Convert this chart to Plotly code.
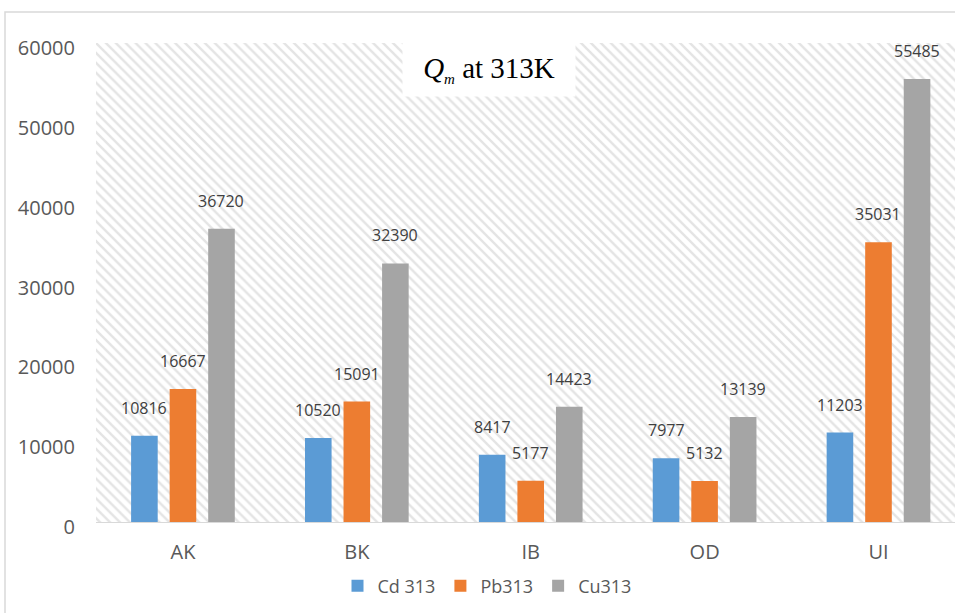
import plotly.graph_objects as go

# Adsorption capacity Qm at 313 K for each adsorbent
categories = ["AK", "BK", "IB", "OD", "UI"]
series_names = ["Cd 313", "Pb313", "Cu313"]
cd_313 = [10816, 10520, 8417, 7977, 11203]
pb_313 = [16667, 15091, 5177, 5132, 35031]
cu_313 = [36720, 32390, 14423, 13139, 55485]
y_ticks = [0, 10000, 20000, 30000, 40000, 50000, 60000]

series_values = [cd_313, pb_313, cu_313]
colors = ["#5B9BD5", "#ED7D31", "#A5A5A5"]

W, H = 955, 613
ML, MR, MT, MB = 96, 0, 43, 91
plot_w = W - ML - MR
plot_h = H - MT - MB
slot_px = 38.5  # horizontal spacing between bars inside a group

fig = go.Figure()

# Diagonal hatch filling the plot area (drawn on the base axes, below the bars)
fig.add_trace(go.Scatter(
    x=[0, 1, 1, 0, 0], y=[0, 0, 1, 1, 0],
    xaxis="x", yaxis="y",
    mode="lines", line=dict(width=0, color="rgba(0,0,0,0)"),
    fill="toself", fillcolor="white",
    fillpattern=dict(shape="\\", fgcolor="#c9c9c9", bgcolor="white",
                     size=7, solidity=0.35),
    hoverinfo="skip", showlegend=False,
))

for name, vals, col in zip(series_names, series_values, colors):
    fig.add_trace(go.Bar(
        x=categories, y=vals, name=name,
        marker=dict(color=col, line=dict(width=0)),
        xaxis="x2", yaxis="y2",
    ))

# Value labels above each bar
annotations = []
for i, vals in enumerate(series_values):
    for cat, v in zip(categories, vals):
        annotations.append(dict(
            x=cat, y=v, xref="x2", yref="y2",
            text=str(v), showarrow=False,
            xanchor="center", yanchor="bottom",
            xshift=(i - 1) * slot_px, yshift=15,
            font=dict(family="Open Sans", size=16, color="#404040"),
        ))

# Chart title in a white box
annotations.append(dict(
    x=(489 - ML) / plot_w, y=1 - 26.5 / plot_h, xref="paper", yref="paper",
    text="<i>Q</i><sub><i><span style='font-size:15px'>m</span></i></sub> at 313K",
    showarrow=False,
    xanchor="center", yanchor="middle",
    width=172, height=53, bgcolor="white", borderpad=0,
    font=dict(family="Liberation Serif", size=29, color="#000000"),
))

fig.update_layout(
    width=W, height=H,
    margin=dict(l=ML, r=MR, t=MT, b=MB),
    paper_bgcolor="white", plot_bgcolor="white",
    barmode="group", bargap=0.335, bargroupgap=0.31,
    xaxis=dict(range=[0, 1], visible=False, fixedrange=True),
    yaxis=dict(range=[0, 1], visible=False, fixedrange=True),
    xaxis2=dict(
        overlaying="x", type="category",
        range=[-0.5, 4.44],
        showgrid=False, zeroline=False,
        showline=True, linecolor="#d9d9d9", linewidth=1,
        ticks="", ticklabelstandoff=12,
        tickfont=dict(family="Open Sans", size=20, color="#595959"),
    ),
    yaxis2=dict(
        overlaying="y", range=[0, 60000],
        tickvals=y_ticks, ticktext=[str(t) for t in y_ticks],
        showgrid=False, zeroline=False, showline=False,
        ticks="", ticklabelstandoff=20, ticklabelshift=5,
        tickfont=dict(family="Open Sans", size=20, color="#595959"),
    ),
    legend=dict(
        orientation="h", x=(487 - ML) / plot_w, xanchor="center",
        y=-64 / plot_h, yanchor="middle",
        font=dict(family="Open Sans", size=18, color="#595959"),
        bgcolor="rgba(0,0,0,0)",
    ),
    annotations=annotations,
    shapes=[dict(
        type="rect", xref="paper", yref="paper",
        x0=(5 - ML) / plot_w, x1=1.2,
        y0=-0.4, y1=1 + (MT - 12) / plot_h,
        line=dict(color="#d9d9d9", width=1.5), fillcolor="rgba(0,0,0,0)",
        layer="below",
    )],
    showlegend=True,
)

fig.write_html("out.html")
